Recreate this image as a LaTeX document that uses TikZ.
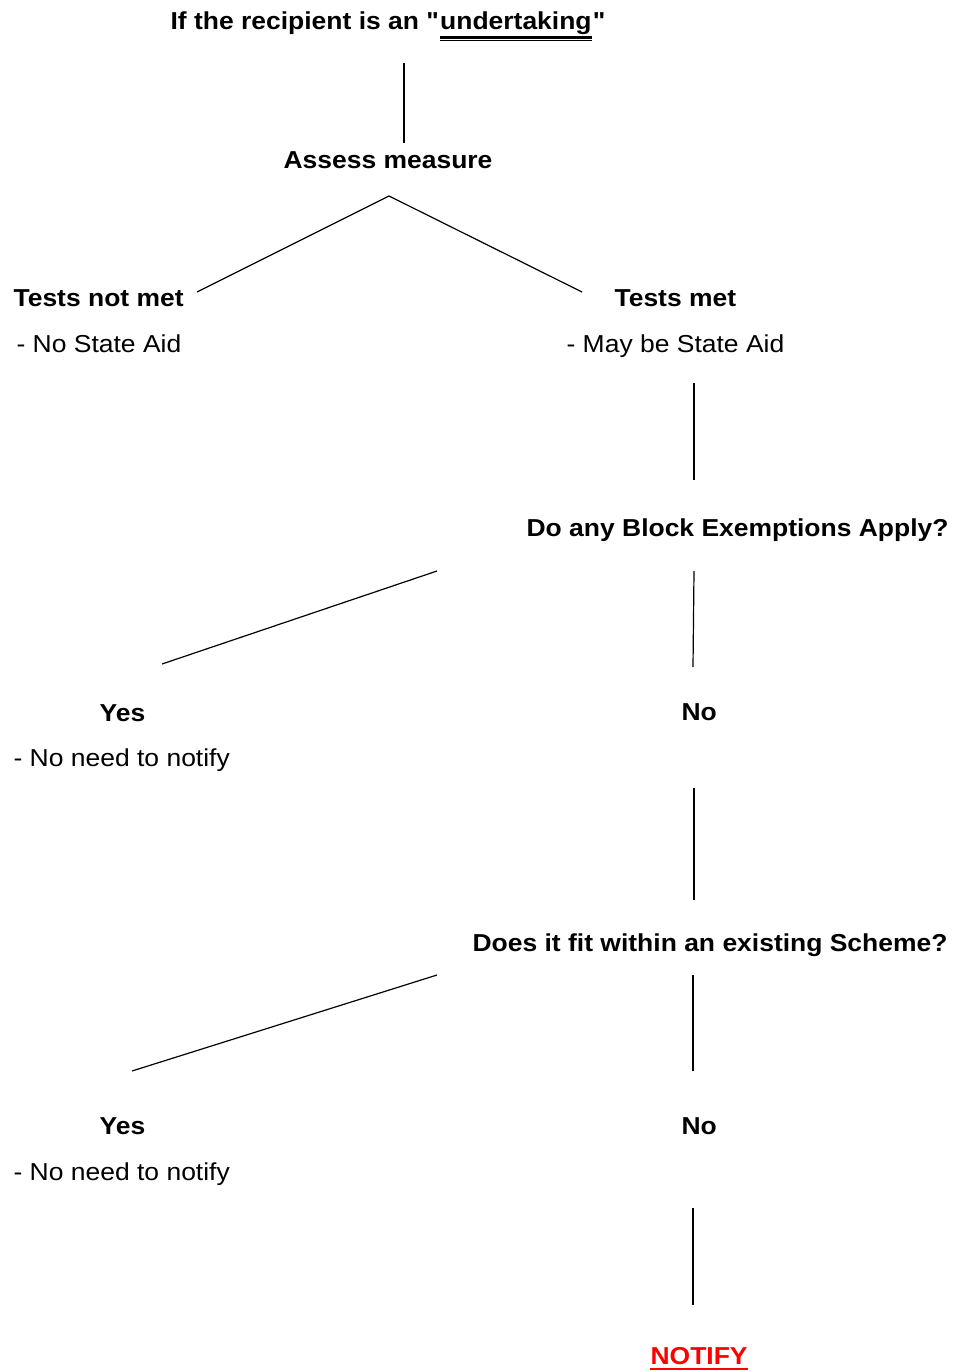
\documentclass[tikz,border=0pt]{standalone}
\usepackage{fontspec}
\setmainfont{Liberation Sans}[FakeStretch=1.08, Ligatures=TeXOff]
\usepackage{tikz}
\usetikzlibrary{positioning}
\definecolor{NotifyRed}{HTML}{FF0000}

\begin{document}
\begin{tikzpicture}[x=1pt, y=-1pt, line width=1.2pt,
  txt/.style={anchor=base west, inner sep=0pt, font=\fontsize{24.5}{29}\selectfont},
  head/.style={txt, font=\fontsize{24.5}{29}\selectfont\bfseries}]
  \useasboundingbox (0,0) rectangle (958,1372);
  % Top: recipient and assessment
  \node[head] (title) at (170,29.5) {If the recipient is an "};
  \node[head, base right=0pt of title] (und) {undertaking};
  \node[head, base right=0pt of und] (quote) {"};
  \draw[line width=2.4pt] ([yshift=-8pt]und.base west) -- ([yshift=-8pt]und.base east);
  \draw[line width=1pt] ([yshift=-11.5pt]und.base west) -- ([yshift=-11.5pt]und.base east);
  \node[head] (assess) at (283,169) {Assess measure};
  \coordinate (t1) at (404,63);
  \coordinate (t2) at (404,143);
  \draw (t1) -- (t2);
  % Tests
  \coordinate (apex) at (389,196);
  \coordinate (notmetend) at (197,292);
  \coordinate (metend) at (582,292);
  \draw (notmetend) -- (apex) -- (metend);
  \node[head] (notmet) at (13,306) {Tests not met};
  \node[txt] (nostate) at (16,352) {- No State Aid};
  \node[head] (met) at (614,306) {Tests met};
  \node[txt] (maystate) at (566,352) {- May be State Aid};
  \coordinate (m1) at (694,383);
  \coordinate (m2) at (694,480);
  \draw (m1) -- (m2);
  % Block exemptions
  \node[head] (block) at (526,536) {Do any Block Exemptions Apply?};
  \coordinate (b1) at (437,571);
  \coordinate (b2) at (162,664);
  \coordinate (b3) at (694,571);
  \coordinate (b4) at (693,667);
  \draw (b1) -- (b2);
  \draw (b3) -- (b4);
  \node[head] (yesA) at (99,721) {Yes};
  \node[txt] (notifyA) at (13,766) {- No need to notify};
  \node[head] (noA) at (681,720) {No};
  \coordinate (n1) at (694,788);
  \coordinate (n2) at (694,900);
  \draw (n1) -- (n2);
  % Existing scheme
  \node[head] (scheme) at (472,951) {Does it fit within an existing Scheme?};
  \coordinate (s1) at (437,975);
  \coordinate (s2) at (132,1071);
  \coordinate (s3) at (693,975);
  \coordinate (s4) at (693,1071);
  \draw (s1) -- (s2);
  \draw (s3) -- (s4);
  \node[head] (yesB) at (99,1134) {Yes};
  \node[txt] (notifyB) at (13,1180) {- No need to notify};
  \node[head] (noB) at (681,1134) {No};
  \coordinate (f1) at (693,1208);
  \coordinate (f2) at (693,1305);
  \draw (f1) -- (f2);
  % Notify
  \node[head, text=NotifyRed] (notify) at (650,1364) {NOTIFY};
  \draw[NotifyRed, line width=2.5pt] ([yshift=-5pt]notify.base west) -- ([yshift=-5pt]notify.base east);
\end{tikzpicture}
\end{document}
